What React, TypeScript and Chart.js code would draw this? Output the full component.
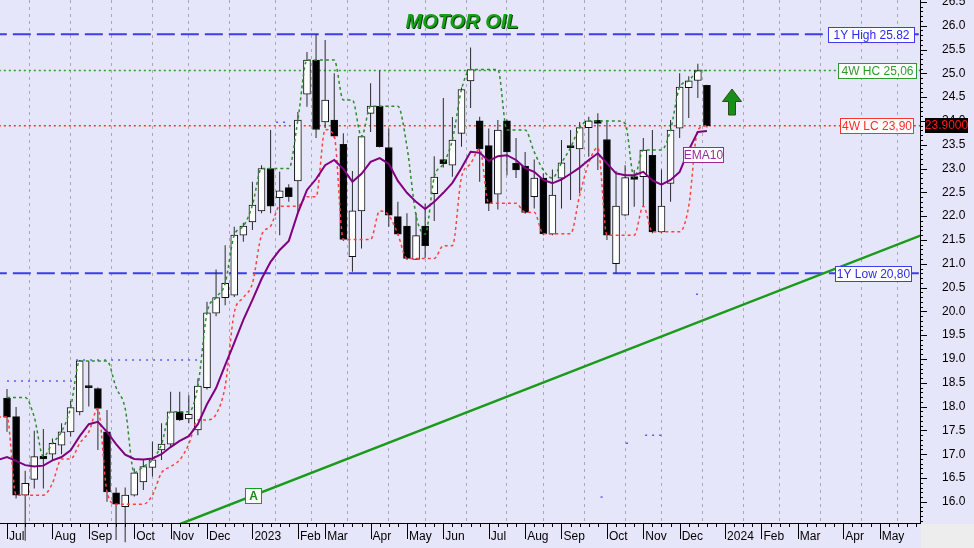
import React, { useEffect, useRef } from 'react';
import { Chart, registerables } from 'chart.js';

Chart.register(...registerables);

// ---- Weekly OHLC (index 0 = first week of Jul 2022) ----
const opens = [
  18.18, 17.79, 16.14, 16.47, 16.96, 17.00, 17.19, 17.47, 17.89, 18.44,
  18.38, 17.47, 16.19, 15.90, 16.14, 16.42, 16.72, 17.09, 17.21, 17.89,
  17.74, 17.51, 18.40, 19.96, 20.29, 20.34, 21.60, 21.88, 22.11, 23.00,
  22.39, 22.60, 22.74, 24.56, 25.28, 23.98, 24.02, 23.51, 21.15, 22.11,
  24.16, 24.31, 23.44, 21.99, 21.79, 21.09, 21.79, 22.47, 23.19, 23.07,
  23.74, 24.84, 24.00, 23.48, 22.46, 24.00, 23.11, 23.05, 22.41, 22.80,
  21.62, 22.80, 23.48, 23.41, 23.86, 24.01, 23.61, 21.00, 22.02, 22.83,
  22.83, 23.28, 21.67, 22.69, 23.85, 24.70, 24.85, 24.75,
];
const highs = [
  18.37, 17.99, 16.65, 17.49, 17.53, 17.33, 17.65, 18.12, 18.98, 18.96,
  18.40, 17.93, 16.30, 16.30, 16.70, 16.89, 17.26, 17.65, 18.31, 18.31,
  18.24, 18.59, 20.20, 20.88, 21.39, 21.78, 21.86, 22.72, 23.07, 23.81,
  22.93, 22.67, 24.19, 25.45, 25.82, 25.70, 25.00, 23.74, 22.95, 23.70,
  24.79, 25.06, 23.84, 22.30, 22.06, 22.06, 22.26, 23.26, 24.48, 24.08,
  24.70, 25.54, 24.09, 23.84, 24.02, 24.03, 23.64, 23.35, 23.19, 22.90,
  22.98, 23.60, 23.81, 23.98, 24.09, 24.16, 24.02, 22.95, 23.07, 22.97,
  23.64, 23.81, 22.98, 24.02, 25.00, 24.94, 25.20, 24.76,
];
const lows = [
  17.47, 16.07, 15.18, 16.28, 16.28, 16.88, 17.00, 17.37, 17.82, 18.00,
  17.09, 16.00, 15.20, 15.15, 16.11, 16.25, 16.53, 16.88, 17.15, 17.70,
  17.65, 17.40, 18.36, 19.90, 20.13, 20.30, 21.46, 21.71, 22.06, 22.06,
  21.60, 22.30, 22.09, 24.30, 23.64, 23.85, 23.64, 21.48, 20.83, 21.32,
  23.77, 23.44, 21.78, 21.60, 21.08, 21.08, 21.12, 21.90, 23.02, 22.83,
  23.46, 24.27, 22.72, 22.11, 22.14, 22.86, 22.80, 22.05, 22.16, 21.60,
  21.60, 22.16, 22.34, 22.48, 23.25, 22.97, 21.50, 20.80, 22.00, 22.20,
  22.20, 21.64, 21.64, 22.30, 23.64, 24.06, 24.48, 23.86,
];
const closes = [
  17.78, 16.14, 16.39, 16.95, 16.90, 17.23, 17.47, 17.98, 18.96, 18.40,
  17.96, 16.21, 15.95, 16.14, 16.61, 16.74, 16.88, 17.21, 17.89, 17.72,
  17.84, 18.43, 19.97, 20.29, 20.59, 21.60, 21.79, 22.23, 23.00, 22.21,
  22.53, 22.41, 24.02, 25.28, 23.82, 24.44, 23.68, 21.51, 22.11, 23.67,
  24.31, 23.46, 22.02, 21.62, 21.11, 21.59, 21.38, 22.82, 23.10, 23.60,
  24.66, 25.08, 23.41, 22.27, 23.81, 23.35, 22.97, 22.08, 22.80, 21.63,
  22.44, 23.12, 23.44, 23.86, 24.00, 23.95, 21.60, 22.21, 22.81, 22.77,
  23.39, 21.67, 22.21, 23.81, 24.71, 24.84, 25.06, 23.90,
];

// EMA10 (first value is the week before index 0)
const emaStartWeek = -1;
const ema10 = [
  16.88,
  16.94, 16.86, 16.77, 16.74, 16.76, 16.87, 16.94, 17.08, 17.38, 17.63,
  17.68, 17.47, 17.21, 16.99, 16.90, 16.89, 16.91, 17.00, 17.15, 17.28,
  17.38, 17.63, 18.05, 18.39, 18.87, 19.34, 19.82, 20.24, 20.68, 21.04,
  21.29, 21.48, 22.07, 22.55, 22.78, 23.07, 23.18, 22.99, 22.72, 22.89,
  23.14, 23.22, 23.10, 22.74, 22.49, 22.30, 22.15, 22.30, 22.49, 22.70,
  23.01, 23.35, 23.33, 23.16, 23.26, 23.28, 23.18, 23.01, 22.93, 22.76,
  22.69, 22.77, 22.89, 23.02, 23.18, 23.32, 23.11, 22.90, 22.86, 22.86,
  22.93, 22.75, 22.66, 22.76, 22.93, 23.39, 23.77, 23.79,
];

// 4-week highest close (green channel), from index 0
const highCloseStartWeek = 0;
const highClose4w = [
  18.19, 18.19, 18.19, 17.78, 16.95, 17.23, 17.47, 17.98, 18.96, 18.96,
  18.96, 18.96, 18.40, 17.96, 16.61, 16.74, 16.88, 17.21, 17.89, 17.89,
  17.89, 18.43, 19.97, 20.29, 20.59, 21.60, 21.79, 22.23, 23.00, 23.00,
  23.00, 23.00, 24.02, 25.28, 25.28, 25.28, 25.28, 24.44, 24.44, 23.67,
  24.31, 24.31, 24.31, 24.31, 23.46, 22.02, 21.62, 22.82, 23.10, 23.60,
  24.66, 25.08, 25.08, 25.08, 25.08, 23.81, 23.81, 23.81, 23.35, 22.97,
  22.80, 23.12, 23.44, 23.86, 24.00, 24.00, 24.00, 24.00, 23.95, 22.81,
  23.39, 23.39, 23.39, 23.81, 24.71, 24.84, 25.06, 25.06,
];

// 4-week lowest close (red channel), first value is the week before index 0
const lowCloseStartWeek = -1;
const lowClose4w = [
  17.78,
  17.78, 16.14, 16.14, 16.14, 16.14, 16.39, 16.90, 16.90, 17.23, 17.47,
  17.96, 16.21, 15.95, 15.95, 15.95, 15.95, 16.14, 16.61, 16.74, 16.88,
  17.21, 17.72, 17.72, 17.84, 18.43, 19.97, 20.29, 20.59, 21.60, 21.79,
  22.21, 22.21, 22.21, 22.41, 22.41, 23.82, 23.68, 21.51, 21.51, 21.51,
  21.51, 22.11, 22.02, 21.62, 21.11, 21.11, 21.11, 21.11, 21.38, 21.38,
  22.82, 23.10, 23.41, 22.27, 22.27, 22.27, 22.27, 22.08, 22.08, 21.63,
  21.63, 21.63, 21.63, 22.44, 23.12, 23.44, 21.60, 21.60, 21.60, 21.60,
  22.21, 21.67, 21.67, 21.67, 21.67, 22.21, 23.81, 23.90,
];

// Levels
const yearHigh = 25.82;
const yearLow = 20.8;
const highClose4wLevel = 25.06;
const lowClose4wLevel = 23.9;
const lastClose = 23.9;

// Older blue dotted level stubs
const priorLevels = [
  { from: 0, to: 7.3, value: 18.54 },
  { from: 7.6, to: 21.2, value: 18.98 },
  { from: 29.6, to: 31.1, value: 23.97 },
  { from: 65.3, to: 65.7, value: 16.1 },
  { from: 68.1, to: 68.8, value: 17.23 },
  { from: 70.2, to: 72.1, value: 17.4 },
  { from: 75.8, to: 76.1, value: 20.36 },
];

// Trend line "A"
const trendFrom = { week: 18, value: 15.456 };
const trendTo = { week: 101, value: 21.63 };

// X axis: month ticks (week index) and labels
const monthTicks = [0, 5, 9, 14, 18, 22, 27, 32, 35, 40, 44, 48, 53, 57, 61, 66, 70, 74, 79, 83, 87, 92, 96];
const monthLabels = ['Jul', 'Aug', 'Sep', 'Oct', 'Nov', 'Dec', '2023', 'Feb', 'Mar', 'Apr', 'May', 'Jun', 'Jul', 'Aug', 'Sep', 'Oct', 'Nov', 'Dec', '2024', 'Feb', 'Mar', 'Apr', 'May'];
const lastWeekTick = 100;

// Y axis labels
const yLabelMin = 16.0;
const yLabelMax = 26.5;

const FONT = '"Liberation Sans", Arial, sans-serif';

function drawBox(
  ctx: CanvasRenderingContext2D,
  text: string,
  left: number,
  right: number,
  yc: number,
  fg: string,
  bg: string,
  border: string,
  font: string,
) {
  const h = 15;
  const top = Math.round(yc - h / 2) + 0.5;
  ctx.fillStyle = bg;
  ctx.fillRect(left, top, right - left, h);
  ctx.strokeStyle = border;
  ctx.lineWidth = 1;
  ctx.strokeRect(left + 0.5, top, right - left - 1, h);
  ctx.fillStyle = fg;
  ctx.font = font;
  ctx.textAlign = 'center';
  ctx.textBaseline = 'middle';
  ctx.fillText(text, (left + right) / 2, top + h / 2 + 0.5);
}

const overlayPlugin = {
  id: 'overlay',
  beforeDraw(chart: any) {
    const { ctx, width, height, chartArea } = chart;
    ctx.save();
    ctx.fillStyle = '#E6E6FA';
    ctx.fillRect(0, 0, width, height);
    ctx.fillStyle = '#EDEDED';
    ctx.fillRect(chartArea.right + 1, chartArea.bottom + 1, width - chartArea.right, height - chartArea.bottom);
    ctx.restore();
  },
  afterDraw(chart: any) {
    const { ctx, chartArea } = chart;
    const xs = chart.scales.x;
    const ys = chart.scales.y;
    ctx.save();

    // x ticks (weekly minor, monthly major)
    ctx.strokeStyle = '#000';
    ctx.lineWidth = 1;
    ctx.beginPath();
    for (let i = 0; i <= lastWeekTick; i++) {
      const x = Math.round(xs.getPixelForValue(i)) + 0.5;
      const len = monthTicks.includes(i) ? 16 : 4;
      ctx.moveTo(x, chartArea.bottom);
      ctx.lineTo(x, chartArea.bottom + len);
    }
    // y ticks (0.1 minor, 0.5 major)
    for (let k = 156; k <= 265; k++) {
      const v = k / 10;
      const y = Math.round(ys.getPixelForValue(v)) + 0.5;
      const len = k % 5 === 0 ? 7 : 3;
      ctx.moveTo(chartArea.right, y);
      ctx.lineTo(chartArea.right + len, y);
    }
    ctx.stroke();

    const f12 = `12px ${FONT}`;
    // level labels
    drawBox(ctx, '1Y High 25.82', 828, 915, ys.getPixelForValue(yearHigh), '#2a2aee', '#ffffff', '#3c3cf0', f12);
    drawBox(ctx, '4W HC 25,06', 838, 917, ys.getPixelForValue(highClose4wLevel), '#2e9a2e', '#ffffff', '#2e9a2e', f12);
    drawBox(ctx, '4W LC 23,90', 840, 914, ys.getPixelForValue(lowClose4wLevel), '#ff2a2a', '#ffffff', '#ff3030', f12);
    drawBox(ctx, '1Y Low 20,80', 835, 912, ys.getPixelForValue(yearLow), '#2a2aee', '#ffffff', '#3c3cf0', f12);

    // last price on axis
    {
      const yc = ys.getPixelForValue(lastClose);
      const top = Math.round(yc - 7.5);
      ctx.fillStyle = '#000';
      ctx.fillRect(925, top, 43, 15);
      ctx.fillStyle = '#ff1a1a';
      ctx.font = f12;
      ctx.textAlign = 'center';
      ctx.textBaseline = 'middle';
      ctx.fillText('23.9000', 946.5, top + 8);
    }

    // EMA10 label
    drawBox(ctx, 'EMA10', 683, 724, 154.5, '#9a2a9a', '#ffffff', '#9a2a9a', f12);

    // "A" label on trend line
    {
      const wk = 27.1;
      const t = (wk - trendFrom.week) / (trendTo.week - trendFrom.week);
      const v = trendFrom.value + t * (trendTo.value - trendFrom.value);
      const xc = xs.getPixelForValue(wk);
      const yc = ys.getPixelForValue(v);
      drawBox(ctx, 'A', Math.round(xc - 8.5), Math.round(xc + 8.5), yc, '#1a8a1a', '#ffffff', '#1a9a1a', `bold 12px ${FONT}`);
    }

    // Title
    ctx.font = `italic bold 20px ${FONT}`;
    ctx.textAlign = 'center';
    ctx.textBaseline = 'alphabetic';
    ctx.fillStyle = '#0b3d0b';
    ctx.fillText('MOTOR OIL', 463, 29);
    ctx.fillStyle = '#16a016';
    ctx.fillText('MOTOR OIL', 462, 28);

    // Up arrow
    ctx.beginPath();
    ctx.moveTo(732, 89);
    ctx.lineTo(741.5, 101.5);
    ctx.lineTo(735.5, 101.5);
    ctx.lineTo(735.5, 115);
    ctx.lineTo(728.5, 115);
    ctx.lineTo(728.5, 101.5);
    ctx.lineTo(722.5, 101.5);
    ctx.closePath();
    ctx.fillStyle = '#178f17';
    ctx.fill();
    ctx.strokeStyle = '#2d4a1d';
    ctx.lineWidth = 1;
    ctx.stroke();

    ctx.restore();
  },
};

function hLine(value: number, color: string, dash: number[], width: number, order: number) {
  return {
    type: 'line' as const,
    data: [
      { x: -2, y: value },
      { x: 102, y: value },
    ],
    borderColor: color,
    borderDash: dash,
    borderWidth: width,
    pointRadius: 0,
    fill: false,
    order,
  };
}

export default function App() {
  const ref = useRef<HTMLCanvasElement | null>(null);

  useEffect(() => {
    document.body.style.margin = '0';
    const canvas = ref.current;
    if (!canvas) return;

    const weeks = opens.map((_, i) => i);
    const labelFor: Record<number, string> = {};
    monthTicks.forEach((t, k) => {
      labelFor[t] = monthLabels[k];
    });

    const datasets: any[] = [
      hLine(yearHigh, '#3c3cf0', [18, 6], 2, 40),
      hLine(yearLow, '#3c3cf0', [18, 6], 2, 40),
      hLine(highClose4wLevel, '#2e9e2e', [2, 3], 1.5, 40),
      hLine(lowClose4wLevel, '#ff3030', [2, 3], 1.5, 40),
      ...priorLevels.map((p) => ({
        type: 'line',
        data: [
          { x: p.from, y: p.value },
          { x: p.to, y: p.value },
        ],
        borderColor: '#5a5aff',
        borderDash: [2, 5],
        borderWidth: 1.5,
        pointRadius: 0,
        order: 39,
      })),
      {
        type: 'line',
        data: [
          { x: trendFrom.week, y: trendFrom.value },
          { x: trendTo.week, y: trendTo.value },
        ],
        borderColor: '#1a9a1a',
        borderWidth: 2.5,
        pointRadius: 0,
        order: 35,
      },
      {
        type: 'bar',
        data: weeks.map((i) => ({ x: i, y: [lows[i], highs[i]] })),
        backgroundColor: '#2a2a2a',
        borderWidth: 0,
        barThickness: 1,
        inflateAmount: 0,
        grouped: false,
        clip: false,
        order: 20,
      },
      {
        type: 'bar',
        data: weeks.map((i) => ({ x: i, y: [opens[i], closes[i]] })),
        backgroundColor: weeks.map((i) => (closes[i] >= opens[i] ? '#ffffff' : '#000000')),
        borderColor: '#111111',
        borderWidth: 1,
        borderSkipped: false,
        barThickness: 7,
        grouped: false,
        order: 19,
      },
      {
        type: 'line',
        data: highClose4w.map((v, k) => ({ x: k + highCloseStartWeek, y: v })),
        borderColor: '#2a8f2a',
        borderDash: [3, 3],
        borderWidth: 1.5,
        pointRadius: 0,
        cubicInterpolationMode: 'monotone',
        order: 10,
      },
      {
        type: 'line',
        data: lowClose4w.map((v, k) => ({ x: k + lowCloseStartWeek, y: v })),
        borderColor: '#ff4040',
        borderDash: [3, 3],
        borderWidth: 1.5,
        pointRadius: 0,
        cubicInterpolationMode: 'monotone',
        order: 10,
      },
      {
        type: 'line',
        data: ema10.map((v, k) => ({ x: k + emaStartWeek, y: v })),
        borderColor: '#800080',
        borderWidth: 2,
        pointRadius: 0,
        tension: 0,
        order: 5,
      },
    ];

    const chart = new Chart(canvas, {
      type: 'bar',
      data: { datasets },
      options: {
        animation: false,
        responsive: false,
        maintainAspectRatio: false,
        devicePixelRatio: 1,
        events: [],
        layout: { padding: 0, autoPadding: false } as any,
        plugins: {
          legend: { display: false },
          tooltip: { enabled: false },
          title: { display: false },
        },
        scales: {
          x: {
            type: 'linear',
            min: -0.77,
            max: 100.44,
            offset: false,
            afterBuildTicks: (scale: any) => {
              scale.ticks = monthTicks.map((v) => ({ value: v }));
            },
            afterFit: (scale: any) => {
              scale.height = 25;
              scale.paddingLeft = 0;
              scale.paddingRight = 0;
              scale.paddingTop = 0;
              scale.paddingBottom = 0;
            },
            ticks: {
              autoSkip: false,
              maxRotation: 0,
              minRotation: 0,
              align: 'start',
              labelOffset: 2,
              padding: 6,
              color: '#000',
              font: { family: FONT, size: 12 },
              callback: (v: any) => labelFor[Number(v)] ?? '',
            },
            grid: {
              display: true,
              drawOnChartArea: true,
              drawTicks: false,
              color: '#a9a9b4',
              lineWidth: 1,
            },
            border: { display: true, color: '#000', width: 1, dash: [3, 4] },
          } as any,
          y: {
            type: 'linear',
            position: 'right',
            min: 15.555,
            max: 26.54,
            afterBuildTicks: (scale: any) => {
              const t: any[] = [];
              for (let k = yLabelMin * 2; k <= yLabelMax * 2; k++) t.push({ value: k / 2 });
              scale.ticks = t;
            },
            afterFit: (scale: any) => {
              scale.width = 54;
              scale.paddingTop = 0;
              scale.paddingBottom = 0;
              scale.paddingLeft = 0;
              scale.paddingRight = 0;
            },
            ticks: {
              padding: 22,
              color: '#000',
              font: { family: FONT, size: 12 },
              callback: (v: any) => Number(v).toFixed(1),
            },
            grid: { display: false, drawTicks: false },
            border: { display: true, color: '#000', width: 1 },
          } as any,
        },
      },
      plugins: [overlayPlugin],
    });

    return () => chart.destroy();
  }, []);

  return (
    <div style={{ width: 974, height: 548 }}>
      <canvas ref={ref} width={974} height={548} style={{ display: 'block' }} />
    </div>
  );
}
